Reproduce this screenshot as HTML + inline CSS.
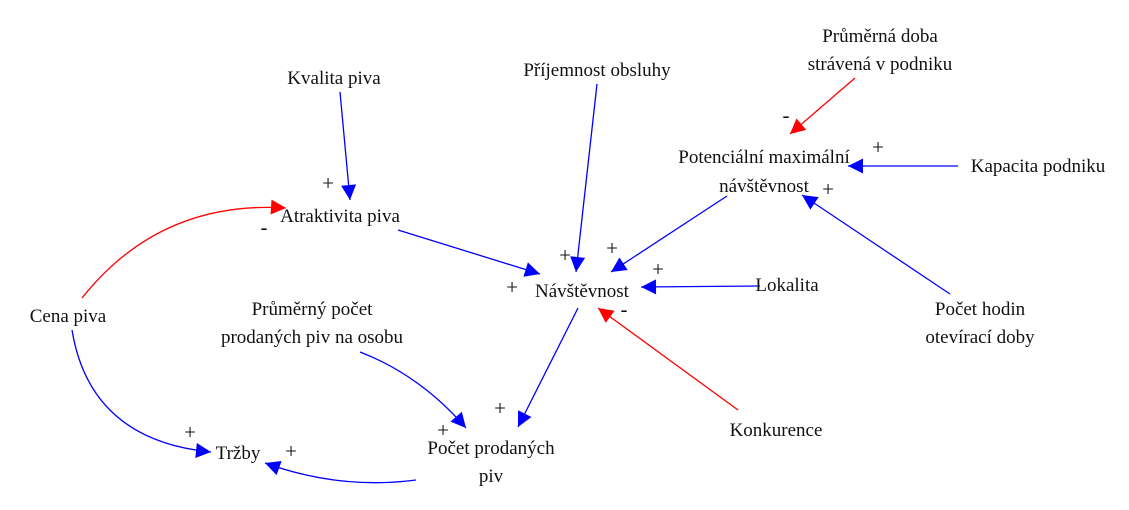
<!DOCTYPE html>
<html><head><meta charset="utf-8"><style>
html,body{margin:0;padding:0;background:#fff}
</style></head><body>
<svg width="1129" height="505" viewBox="0 0 1129 505" xmlns="http://www.w3.org/2000/svg" font-family="'Liberation Serif','Times New Roman','DejaVu Serif',serif" font-size="19" fill="#111">
<defs>
<marker id="b" viewBox="0 0 10 10" refX="10" refY="5" markerWidth="20" markerHeight="15" markerUnits="userSpaceOnUse" orient="auto"><path d="M0,0L10,5L0,10z" fill="#0000ff"/></marker>
<marker id="r" viewBox="0 0 10 10" refX="10" refY="5" markerWidth="20" markerHeight="15" markerUnits="userSpaceOnUse" orient="auto"><path d="M0,0L10,5L0,10z" fill="#ff0000"/></marker>
</defs>
<g fill="none" stroke-width="1.3">
<path d="M340,92 L350,200" stroke="#0000ff" marker-end="url(#b)"/>
<path d="M597,84 L576,272" stroke="#0000ff" marker-end="url(#b)"/>
<path d="M855,78 L790,134" stroke="#ff0000" marker-end="url(#r)"/>
<path d="M958,166 L848,166" stroke="#0000ff" marker-end="url(#b)"/>
<path d="M950,294 L802,195" stroke="#0000ff" marker-end="url(#b)"/>
<path d="M727,196 L611,272" stroke="#0000ff" marker-end="url(#b)"/>
<path d="M398,230 L540,274" stroke="#0000ff" marker-end="url(#b)"/>
<path d="M760,286 L641,287" stroke="#0000ff" marker-end="url(#b)"/>
<path d="M738,410 L598,308" stroke="#ff0000" marker-end="url(#r)"/>
<path d="M578,308 L518,427" stroke="#0000ff" marker-end="url(#b)"/>
<path d="M360,352 Q420,375 466,428" stroke="#0000ff" marker-end="url(#b)"/>
<path d="M416,480 Q340,490 265,463" stroke="#0000ff" marker-end="url(#b)"/>
<path d="M72,330 Q90,440 211,452" stroke="#0000ff" marker-end="url(#b)"/>
<path d="M82,298 Q160,200 286,208" stroke="#ff0000" marker-end="url(#r)"/>
</g>
<g text-anchor="middle">
<text x="334" y="84">Kvalita piva</text>
<text x="597" y="76">Příjemnost obsluhy</text>
<text x="880" y="42">Průměrná doba</text>
<text x="880" y="70">strávená v podniku</text>
<text x="764" y="163">Potenciální maximální</text>
<text x="764" y="192">návštěvnost</text>
<text x="1038" y="172">Kapacita podniku</text>
<text x="340" y="222">Atraktivita piva</text>
<text x="582" y="297">Návštěvnost</text>
<text x="787" y="291">Lokalita</text>
<text x="68" y="322">Cena piva</text>
<text x="312" y="315">Průměrný počet</text>
<text x="312" y="343">prodaných piv na osobu</text>
<text x="980" y="315">Počet hodin</text>
<text x="980" y="343">otevírací doby</text>
<text x="776" y="436">Konkurence</text>
<text x="238" y="459">Tržby</text>
<text x="491" y="454">Počet prodaných</text>
<text x="491" y="482">piv</text>
</g>
<g text-anchor="middle" font-size="21">
<text x="328" y="190">+</text>
<text x="264" y="234">-</text>
<text x="565" y="262">+</text>
<text x="612" y="255">+</text>
<text x="512" y="294">+</text>
<text x="658" y="276">+</text>
<text x="624" y="316">-</text>
<text x="786" y="122">-</text>
<text x="878" y="154">+</text>
<text x="828" y="196">+</text>
<text x="500" y="415">+</text>
<text x="443" y="437">+</text>
<text x="190" y="439">+</text>
<text x="291" y="458">+</text>
</g>
</svg>
</body></html>
